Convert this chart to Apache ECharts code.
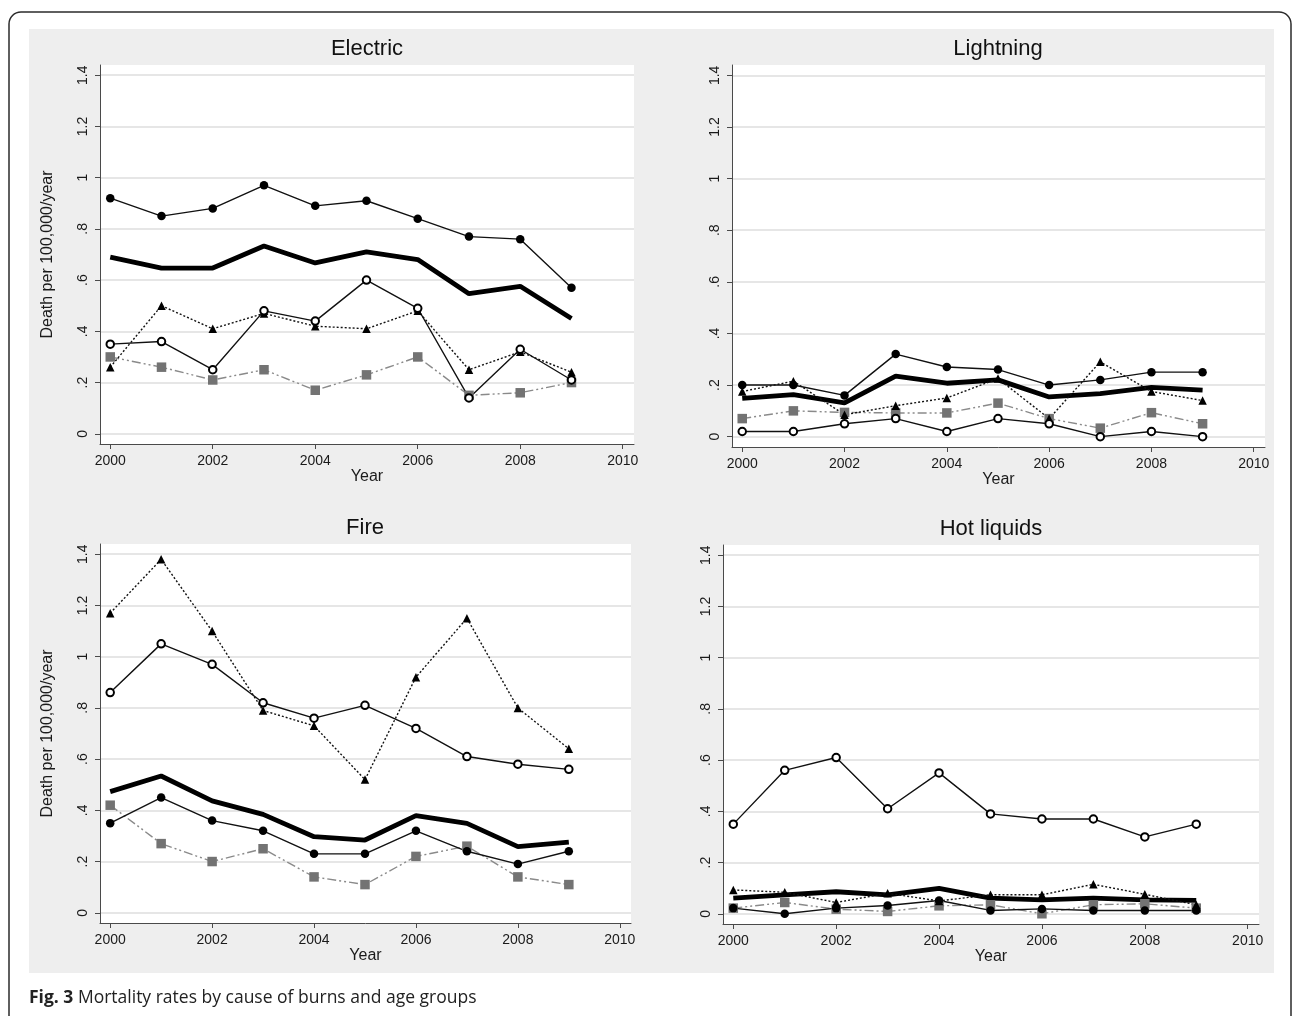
<!DOCTYPE html>
<html>
<head>
<meta charset="utf-8">
<script src="https://cdn.jsdelivr.net/npm/echarts@6/dist/echarts.min.js"></script>
<style>
  html, body { margin: 0; padding: 0; background: #ffffff; }
  #chart { width: 1292px; height: 1016px; }
</style>
</head>
<body>
<div id="chart"></div>
<script>
// ---------- DATA ----------
const years = [2000, 2001, 2002, 2003, 2004, 2005, 2006, 2007, 2008, 2009];
const xTicks = [2000, 2002, 2004, 2006, 2008, 2010];
const yTicks = [0, 0.2, 0.4, 0.6, 0.8, 1, 1.2, 1.4];
const yTickLabels = ['0', '.2', '.4', '.6', '.8', '1', '1.2', '1.4'];
const panelTitles = ['Electric', 'Lightning', 'Fire', 'Hot liquids'];
const yAxisTitle = 'Death per 100,000/year';
const xAxisTitle = 'Year';
const captionBold = 'Fig. 3';
const captionText = ' Mortality rates by cause of burns and age groups';

// Electric
const electricFilled   = [0.92, 0.85, 0.88, 0.97, 0.89, 0.91, 0.84, 0.77, 0.76, 0.57];
const electricTotal    = [0.69, 0.647, 0.647, 0.733, 0.667, 0.71, 0.68, 0.547, 0.576, 0.45];
const electricHollow   = [0.35, 0.36, 0.25, 0.48, 0.44, 0.60, 0.49, 0.14, 0.33, 0.21];
const electricTriangle = [0.26, 0.50, 0.41, 0.47, 0.42, 0.41, 0.48, 0.25, 0.32, 0.24];
const electricSquare   = [0.30, 0.26, 0.21, 0.25, 0.17, 0.23, 0.30, 0.15, 0.16, 0.20];

// Lightning
const lightningFilled   = [0.20, 0.20, 0.16, 0.32, 0.27, 0.26, 0.20, 0.22, 0.25, 0.25];
const lightningTotal    = [0.148, 0.163, 0.131, 0.235, 0.207, 0.22, 0.154, 0.167, 0.191, 0.18];
const lightningHollow   = [0.02, 0.02, 0.05, 0.07, 0.02, 0.07, 0.05, 0.0, 0.02, 0.0];
const lightningTriangle = [0.175, 0.215, 0.085, 0.12, 0.15, 0.225, 0.07, 0.29, 0.175, 0.14];
const lightningSquare   = [0.07, 0.10, 0.094, 0.092, 0.092, 0.13, 0.07, 0.033, 0.093, 0.05];

// Fire
const fireFilled   = [0.35, 0.45, 0.36, 0.32, 0.23, 0.23, 0.32, 0.24, 0.19, 0.24];
const fireTotal    = [0.473, 0.534, 0.437, 0.384, 0.297, 0.284, 0.379, 0.349, 0.258, 0.276];
const fireHollow   = [0.86, 1.05, 0.97, 0.82, 0.76, 0.81, 0.72, 0.61, 0.58, 0.56];
const fireTriangle = [1.17, 1.38, 1.10, 0.79, 0.73, 0.52, 0.92, 1.15, 0.80, 0.64];
const fireSquare   = [0.42, 0.27, 0.20, 0.25, 0.14, 0.11, 0.22, 0.26, 0.14, 0.11];

// Hot liquids
const hotFilled   = [0.022, 0.0, 0.022, 0.032, 0.052, 0.013, 0.019, 0.013, 0.013, 0.013];
const hotTotal    = [0.061, 0.074, 0.086, 0.074, 0.099, 0.061, 0.054, 0.061, 0.054, 0.052];
const hotHollow   = [0.35, 0.56, 0.61, 0.41, 0.55, 0.39, 0.37, 0.37, 0.30, 0.35];
const hotTriangle = [0.093, 0.084, 0.044, 0.08, 0.05, 0.074, 0.074, 0.115, 0.076, 0.035];
const hotSquare   = [0.022, 0.044, 0.018, 0.009, 0.031, 0.035, 0.0, 0.035, 0.039, 0.022];

const panelData = [
  { total: electricTotal, filled: electricFilled, hollow: electricHollow, triangle: electricTriangle, square: electricSquare },
  { total: lightningTotal, filled: lightningFilled, hollow: lightningHollow, triangle: lightningTriangle, square: lightningSquare },
  { total: fireTotal, filled: fireFilled, hollow: fireHollow, triangle: fireTriangle, square: fireSquare },
  { total: hotTotal, filled: hotFilled, hollow: hotHollow, triangle: hotTriangle, square: hotSquare }
];

// ---------- LAYOUT / STYLE ----------
const FONT = '"Liberation Sans", Arial, Helvetica, sans-serif';
const layout = [
  { left: 100, top: 65,  width: 534, height: 379, titleX: 367, titleY: 49,  yName: true },
  { left: 732, top: 65,  width: 533, height: 382, titleX: 998, titleY: 49,  yName: false },
  { left: 100, top: 544, width: 531, height: 379, titleX: 365, titleY: 528, yName: true },
  { left: 723, top: 545, width: 536, height: 379, titleX: 991, titleY: 529, yName: false }
];
const X_MIN = 1999.8, X_MAX = 2010.22, Y_MIN = -0.04, Y_MAX = 1.44;

const seriesStyles = {
  total:    { name: 'Total', lineStyle: { color: '#000', width: 4.8, type: 'solid' }, symbol: 'none', symbolSize: 0, itemColor: '#000' },
  filled:   { name: 'Age group 1', lineStyle: { color: '#111', width: 1.4, type: 'solid' }, symbol: 'circle', symbolSize: 8.5, itemColor: '#000' },
  hollow:   { name: 'Age group 2', lineStyle: { color: '#111', width: 1.4, type: 'solid' }, symbol: 'emptyCircle', symbolSize: 7.5, itemColor: '#000' },
  triangle: { name: 'Age group 3', lineStyle: { color: '#111', width: 1.4, type: [2, 2] }, symbol: 'triangle', symbolSize: 8.5, itemColor: '#000' },
  square:   { name: 'Age group 4', lineStyle: { color: '#8a8a8a', width: 1.4, type: [9, 3, 2, 3, 2, 3] }, symbol: 'rect', symbolSize: 9.5, itemColor: '#737373' }
};
const drawOrder = ['total', 'square', 'triangle', 'hollow', 'filled'];

const grids = [], xAxes = [], yAxes = [], series = [];
layout.forEach((p, i) => {
  grids.push({
    left: p.left, top: p.top, width: p.width, height: p.height,
    show: true, backgroundColor: '#ffffff', borderWidth: 0,
    containLabel: false, outerBoundsMode: 'none'
  });
  xAxes.push({
    type: 'value', gridIndex: i, min: X_MIN, max: X_MAX,
    name: xAxisTitle, nameLocation: 'middle', nameGap: 24,
    nameTextStyle: { fontFamily: FONT, fontSize: 16, color: '#1a1a1a' },
    axisLine: { show: true, onZero: false, lineStyle: { color: '#4a4a4a', width: 1 } },
    axisTick: { show: true, length: 5, customValues: xTicks, lineStyle: { color: '#4a4a4a', width: 1 } },
    axisLabel: { show: true, customValues: xTicks, margin: 10, fontFamily: FONT, fontSize: 14, color: '#1a1a1a',
                 formatter: v => String(Math.round(v)) },
    splitLine: { show: false }
  });
  yAxes.push({
    type: 'value', gridIndex: i, min: Y_MIN, max: Y_MAX,
    name: p.yName ? yAxisTitle : '', nameLocation: 'middle', nameGap: 44,
    nameTextStyle: { fontFamily: FONT, fontSize: 16, color: '#1a1a1a' },
    axisLine: { show: true, onZero: false, lineStyle: { color: '#4a4a4a', width: 1 } },
    axisTick: { show: true, length: 5, customValues: yTicks, lineStyle: { color: '#4a4a4a', width: 1 } },
    axisLabel: { show: true, customValues: yTicks, rotate: 90, margin: 10, fontFamily: FONT, fontSize: 14, color: '#1a1a1a',
                 formatter: v => { const k = yTicks.findIndex(t => Math.abs(t - v) < 1e-6); return k >= 0 ? yTickLabels[k] : ''; } },
    splitLine: { show: true, lineStyle: { color: '#e6e6e6', width: 2 } }
  });
  drawOrder.forEach(key => {
    const s = seriesStyles[key];
    series.push({
      type: 'line', name: s.name, xAxisIndex: i, yAxisIndex: i,
      data: years.map((y, k) => [y, panelData[i][key][k]]),
      symbol: s.symbol, symbolSize: s.symbolSize, showSymbol: s.symbol !== 'none',
      lineStyle: s.lineStyle,
      itemStyle: { color: s.itemColor, borderColor: s.itemColor, borderWidth: key === 'hollow' ? 1.3 : 0 },
      emphasis: { disabled: true },
      clip: false
    });
  });
});

const graphics = [
  { type: 'rect', z: -10, shape: { x: 9, y: 12, width: 1282, height: 1040, r: 12 },
    style: { fill: '#ffffff', stroke: '#2b2b2b', lineWidth: 1.5 } },
  { type: 'rect', z: -9, shape: { x: 29, y: 29, width: 1245, height: 944 },
    style: { fill: '#eeeeee' } },
  { type: 'text', x: 29, y: 998,
    style: { text: '{b|' + captionBold + '}{r|' + captionText + '}', verticalAlign: 'middle',
             rich: { b: { fontFamily: '"Open Sans", "Noto Sans", sans-serif', fontWeight: 'bold', fontSize: 17.5, fill: '#222' },
                     r: { fontFamily: '"Open Sans", "Noto Sans", sans-serif', fontSize: 17.5, fill: '#222' } } } }
];
layout.forEach((p, i) => {
  graphics.push({ type: 'text', x: p.titleX, y: p.titleY,
    style: { text: panelTitles[i], fontFamily: FONT, fontSize: 22, fill: '#111', align: 'center', verticalAlign: 'middle' } });
});

const chart = echarts.init(document.getElementById('chart'), null, { renderer: 'canvas' });
chart.setOption({
  animation: false,
  backgroundColor: '#ffffff',
  grid: grids, xAxis: xAxes, yAxis: yAxes, series: series,
  graphic: graphics,
  tooltip: { show: false }
});
</script>
</body>
</html>
